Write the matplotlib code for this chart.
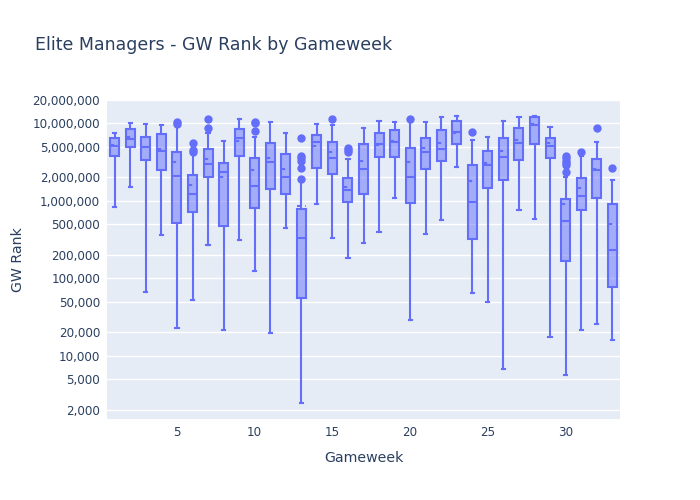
import matplotlib
matplotlib.use('Agg')
import matplotlib.pyplot as plt
from matplotlib.ticker import FixedLocator, FuncFormatter, NullLocator

# box stats per gameweek
gw = list(range(1, 34))
whislo = [830e3, 1.51e6, 66.8e3, 365e3, 23e3, 53e3, 266e3, 21.4e3, 312e3, 123e3, 19.6e3,
          440e3, 2.46e3, 896e3, 327e3, 185e3, 288e3, 391e3, 1.07e6, 28.8e3, 368e3, 557e3,
          2.71e6, 64e3, 49e3, 6.68e3, 766e3, 586e3, 17.4e3, 5.65e3, 21.4e3, 25.6e3, 15.8e3]
q1 = [3.83e6, 5.0e6, 3.37e6, 2.51e6, 516e3, 722e3, 2.05e6, 467e3, 3.8e6, 796e3, 1.43e6,
      1.23e6, 55.3e3, 2.66e6, 2.21e6, 962e3, 1.23e6, 3.72e6, 3.72e6, 934e3, 2.56e6, 3.24e6,
      5.42e6, 324e3, 1.47e6, 1.86e6, 3.34e6, 5.46e6, 3.58e6, 167e3, 750e3, 1.08e6, 76.6e3]
med = [5.15e6, 6.22e6, 5.0e6, 4.36e6, 2.08e6, 1.23e6, 2.99e6, 2.34e6, 6.41e6, 1.57e6, 3.2e6,
       2.02e6, 327e3, 5.69e6, 3.58e6, 1.39e6, 2.6e6, 5.46e6, 5.8e6, 2.05e6, 4.27e6, 4.71e6,
       7.8e6, 971e3, 2.93e6, 3.65e6, 5.63e6, 9.6e6, 5.1e6, 542e3, 1.16e6, 2.48e6, 229e3]
mean = [5.26e6, 6.72e6, 4.9e6, 4.67e6, 3.15e6, 1.62e6, 3.47e6, 2.02e6, 5.92e6, 2.51e6, 3.61e6,
        2.6e6, 862e3, 5.1e6, 4.27e6, 1.51e6, 3.3e6, 5.3e6, 5.9e6, 3.15e6, 4.85e6, 5.63e6,
        7.5e6, 1.82e6, 3.06e6, 4.44e6, 6.1e6, 9.7e6, 5.53e6, 896e3, 1.47e6, 2.56e6, 501e3]
q3 = [6.41e6, 8.45e6, 6.72e6, 7.22e6, 4.27e6, 2.18e6, 4.71e6, 3.11e6, 8.45e6, 3.55e6, 5.53e6,
      4.06e6, 789e3, 7.13e6, 5.75e6, 1.98e6, 5.37e6, 7.43e6, 8.2e6, 4.77e6, 6.47e6, 8.28e6,
      10.8e6, 2.88e6, 4.4e6, 6.53e6, 8.78e6, 12.05e6, 6.53e6, 1.05e6, 1.98e6, 3.47e6, 907e3]
whishi = [7.43e6, 10.2e6, 9.7e6, 9.6e6, 9.5e6, 4.11e6, 7.57e6, 5.87e6, 11.4e6, 6.6e6, 10.3e6,
          7.57e6, 1.77e6, 9.89e6, 9.6e6, 3.44e6, 8.78e6, 10.8e6, 10.3e6, 10.5e6, 10.4e6, 12.2e6,
          12.5e6, 6.1e6, 6.6e6, 10.8e6, 12.05e6, 12.4e6, 8.89e6, 2.02e6, 3.83e6, 5.8e6, 1.86e6]
fliers = {5: [10.3e6, 9.9e6], 6: [5.63e6, 4.53e6, 4.31e6], 7: [11.3e6, 8.7e6],
          10: [10.3e6, 10.0e6, 7.96e6], 13: [6.47e6, 3.8e6, 3.55e6, 3.24e6, 2.64e6, 1.9e6],
          15: [11.3e6], 16: [4.77e6, 4.53e6, 4.31e6], 20: [11.4e6], 24: [7.8e6],
          30: [3.8e6, 3.55e6, 3.3e6, 3.1e6, 2.9e6, 2.38e6], 31: [4.23e6], 32: [8.7e6],
          33: [2.68e6]}
yticks = [2000, 5000, 10000, 20000, 50000, 100000, 200000, 500000,
          1e6, 2e6, 5e6, 10e6, 20e6]

blue = '#636efa'
txt = '#2a3f5f'

stats = []
for i, g in enumerate(gw):
    stats.append(dict(whislo=whislo[i], q1=q1[i], med=med[i], mean=mean[i],
                      q3=q3[i], whishi=whishi[i], fliers=fliers.get(g, [])))

fig = plt.figure(figsize=(7, 5), dpi=100)
ax = fig.add_axes([107/700, 81/500, 513/700, 319/500])
ax.set_facecolor('#E5ECF6')

ax.bxp(stats, positions=gw, widths=0.58, patch_artist=True,
       showmeans=True, meanline=True, capwidths=0.2,
       boxprops=dict(facecolor=(99/255, 110/255, 250/255, 0.5), edgecolor=blue, linewidth=1.5),
       medianprops=dict(color=blue, linewidth=1.5),
       meanprops=dict(color=blue, linewidth=1.5, linestyle=(0, (2, 2))),
       whiskerprops=dict(color=blue, linewidth=1.5),
       capprops=dict(color=blue, linewidth=1.5),
       flierprops=dict(marker='o', markersize=5, markerfacecolor=blue,
                       markeredgecolor=blue, linestyle='none'))

ax.set_yscale('log')
ax.set_ylim(1520, 20e6)
ax.set_xlim(0.5, 33.5)
ax.yaxis.set_major_locator(FixedLocator(yticks))
ax.yaxis.set_minor_locator(NullLocator())
ax.yaxis.set_major_formatter(FuncFormatter(lambda v, p: '{:,}'.format(int(round(v)))))
ax.xaxis.set_major_locator(FixedLocator([5, 10, 15, 20, 25, 30]))
ax.xaxis.set_major_formatter(FuncFormatter(lambda v, p: '%d' % v))
ax.grid(axis='y', color='white', linewidth=1)
ax.set_axisbelow(True)
for s in ax.spines.values():
    s.set_visible(False)
ax.tick_params(length=0, labelsize=8.6, colors=txt, pad=5)

ax.set_xlabel('Gameweek', fontsize=10.2, color=txt, labelpad=9)
ax.set_ylabel('GW Rank', fontsize=10.2, color=txt, labelpad=5)
fig.text(35/700, 1 - 45/500, 'Elite Managers - GW Rank by Gameweek',
         fontsize=12.5, color=txt, va='center', ha='left')

fig.savefig('out.png', dpi=100)
